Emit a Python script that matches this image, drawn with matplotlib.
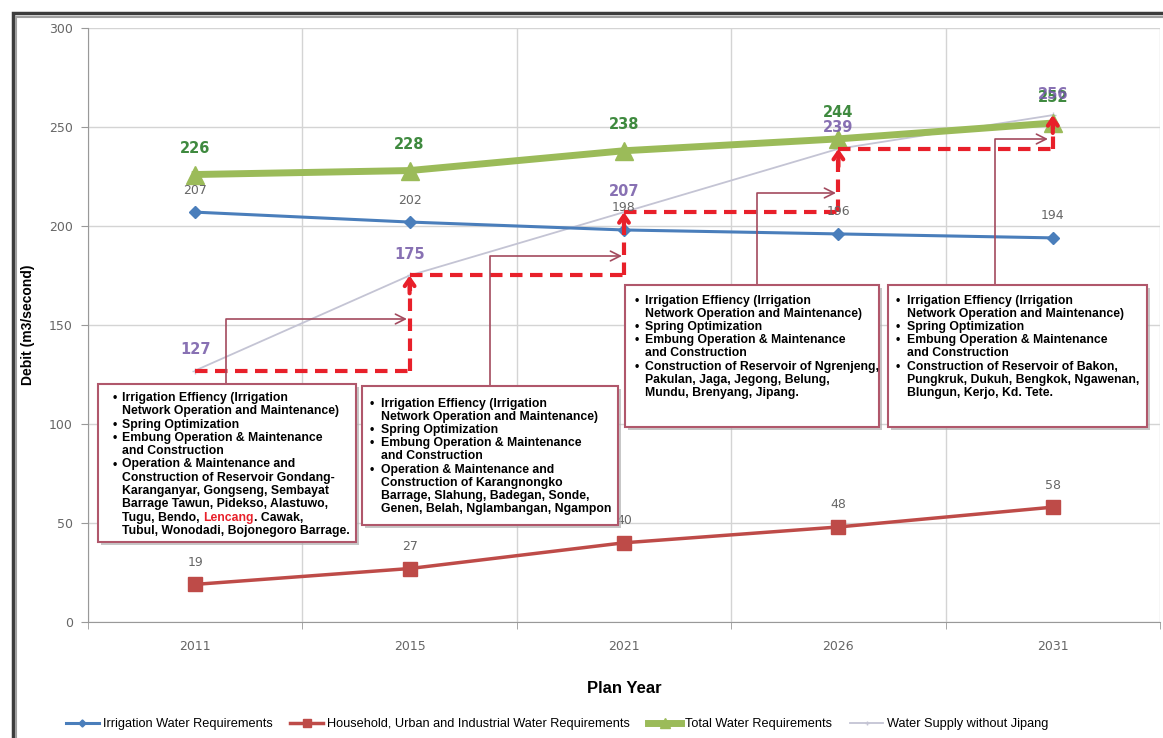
import matplotlib.pyplot as plt
from matplotlib.patches import Rectangle

W, H = 1163, 738

# series values (m3/second)
years = ['2011', '2015', '2021', '2026', '2031']
irrigation = [207, 202, 198, 196, 194]
household = [19, 27, 40, 48, 58]
total = [226, 228, 238, 244, 252]
supply = [127, 175, 207, 239, 256]

yticks = [0, 50, 100, 150, 200, 250, 300]

# program notes per planning period; {word} is drawn in red
common_items = [
    ['Irrigation Effiency (Irrigation', 'Network Operation and Maintenance)'],
    ['Spring Optimization'],
    ['Embung Operation & Maintenance', 'and Construction'],
]
notes_2015 = common_items + [[
    'Operation & Maintenance and',
    'Construction of Reservoir Gondang-',
    'Karanganyar, Gongseng, Sembayat',
    'Barrage Tawun, Pidekso, Alastuwo,',
    'Tugu, Bendo, {Lencang}. Cawak,',
    'Tubul, Wonodadi, Bojonegoro Barrage.',
]]
notes_2021 = common_items + [[
    'Operation & Maintenance and',
    'Construction of Karangnongko',
    'Barrage, Slahung, Badegan, Sonde,',
    'Genen, Belah, Nglambangan, Ngampon',
]]
notes_2026 = common_items + [[
    'Construction of Reservoir of Ngrenjeng,',
    'Pakulan, Jaga, Jegong, Belung,',
    'Mundu, Brenyang, Jipang.',
]]
notes_2031 = common_items + [[
    'Construction of Reservoir of Bakon,',
    'Pungkruk, Dukuh, Bengkok, Ngawenan,',
    'Blungun, Kerjo, Kd. Tete.',
]]

fig = plt.figure(figsize=(W / 100, H / 100), dpi=100)
fig.patch.set_facecolor('white')
ax = fig.add_axes([88 / W, 1 - 622 / H, (1160 - 88) / W, (622 - 28) / H])

x = list(range(len(years)))

l_irr, = ax.plot(x, irrigation, color='#4a7ebb', lw=2.2, marker='D', ms=6,
                 label='Irrigation Water Requirements', zorder=4)
l_hh, = ax.plot(x, household, color='#be4b48', lw=2.5, marker='s', ms=10,
                label='Household, Urban and Industrial Water Requirements', zorder=4)
l_tot, = ax.plot(x, total, color='#9bbb59', lw=5, marker='^', ms=13,
                 label='Total Water Requirements', zorder=4)
l_sup, = ax.plot(x, supply, color='#c4c4d4', lw=1.3, marker='+', ms=4,
                 label='Water Supply without Jipang', zorder=3)

# value labels
for i in x:
    ax.annotate(str(irrigation[i]), (i, irrigation[i]), xytext=(0, 22),
                textcoords='offset pixels', ha='center', va='center',
                fontsize=9, color='#666666', zorder=6)
    ax.annotate(str(household[i]), (i, household[i]), xytext=(0, 22),
                textcoords='offset pixels', ha='center', va='center',
                fontsize=9, color='#666666', zorder=6)
    ax.annotate(str(total[i]), (i, total[i]), xytext=(0, 26),
                textcoords='offset pixels', ha='center', va='center',
                fontsize=10.5, fontweight='bold', color='#3f8a3f', zorder=6)
    ax.annotate(str(supply[i]), (i, supply[i]), xytext=(0, 21),
                textcoords='offset pixels', ha='center', va='center',
                fontsize=10.5, fontweight='bold', color='#7358a6', alpha=0.85, zorder=6)

# step arrows: supply gained from one period to the next
red = '#e8202a'
for i in range(len(x) - 1):
    ax.plot([i, i + 1], [supply[i], supply[i]], color=red, lw=3,
            ls=(0, (3, 1.8)), zorder=5, solid_capstyle='butt')
    ax.plot([i + 1, i + 1], [supply[i], supply[i + 1] - 3], color=red, lw=3,
            ls=(0, (3, 1.8)), zorder=5)
    ax.annotate('', xy=(i + 1, supply[i + 1]), xytext=(i + 1, supply[i + 1] - 9),
                arrowprops=dict(arrowstyle='->,head_length=0.5,head_width=0.35',
                                color=red, lw=3, shrinkA=0, shrinkB=0), zorder=5)

ax.set_xlim(-0.5, len(years) - 0.5)
ax.set_ylim(0, 300)
ax.set_xticks(x)
ax.set_xticklabels(years)
ax.set_xticks([v - 0.5 for v in range(len(years) + 1)], minor=True)
ax.set_yticks(yticks)
ax.tick_params(axis='x', which='major', length=0, pad=13, labelsize=9,
               labelcolor='#666666')
ax.tick_params(axis='x', which='minor', length=5, color='#999999')
ax.tick_params(axis='y', length=5, color='#999999', labelsize=9,
               labelcolor='#666666', pad=6)
ax.grid(True, axis='y', color='#d4d4d4', lw=1)
ax.grid(True, axis='x', which='minor', color='#d4d4d4', lw=1)
ax.set_axisbelow(True)
for side in ['top', 'right']:
    ax.spines[side].set_visible(False)
for side in ['left', 'bottom']:
    ax.spines[side].set_color('#999999')

ax.set_ylabel('Debit (m3/second)', fontsize=10, fontweight='bold',
              family='Liberation Sans', labelpad=10)
ax.set_xlabel('Plan Year', fontsize=12, fontweight='bold',
              family='Liberation Sans', labelpad=20)

fig.legend(handles=[l_irr, l_hh, l_tot, l_sup], loc='center',
           bbox_to_anchor=(557 / W, 1 - 724 / H), ncol=4, frameon=False,
           prop={'family': 'Liberation Sans', 'size': 9.2},
           handlelength=2.6, columnspacing=1.4, handletextpad=0.3, markerscale=0.6)

renderer = fig.canvas.get_renderer()


def fx(px):
    return px / W


def fy(py):
    return 1 - py / H


def note_box(left, top, right, bottom, items, first_y, bullet_x, text_x, step=13.3):
    fig.add_artist(Rectangle((fx(left + 3), fy(bottom + 3)), (right - left) / W,
                             (bottom - top) / H, transform=fig.transFigure,
                             fc='#b0b0b0', ec='none', alpha=0.7, zorder=6))
    fig.add_artist(Rectangle((fx(left), fy(bottom)), (right - left) / W,
                             (bottom - top) / H, transform=fig.transFigure,
                             fc='white', ec='#b0576b', lw=1.5, zorder=7))
    style = dict(family='Liberation Sans', fontweight='bold', fontsize=8.8,
                 va='baseline', ha='left', zorder=8)
    y = first_y + 4
    for item in items:
        fig.text(fx(bullet_x), fy(y), '\u2022', **style)
        for line in item:
            if '{' in line:
                # split the line so the middle word can take its own colour
                pre, rest = line.split('{')
                word, post = rest.split('}')
                cx = text_x
                for part, col in [(pre, 'black'), (word, '#e8202a'), (post, 'black')]:
                    t = fig.text(fx(cx), fy(y), part, color=col, **style)
                    cx = t.get_window_extent(renderer).x1
            else:
                fig.text(fx(text_x), fy(y), line, **style)
            y += step


def connector(x0, y0, x1, y1):
    ax.annotate('', xy=(x1, H - y1), xycoords='figure pixels',
                xytext=(x0, H - y0), textcoords='figure pixels',
                arrowprops=dict(arrowstyle='->,head_length=0.7,head_width=0.35',
                                color='#a34a5e', lw=1.2, shrinkA=0, shrinkB=0,
                                connectionstyle='angle,angleA=90,angleB=0,rad=0'),
                annotation_clip=False, zorder=5)


connector(226, 384, 407, 319)
connector(490, 386, 622, 256)
connector(757, 285, 836, 193)
connector(995, 285, 1048, 139)

note_box(98, 384, 356, 542, notes_2015, 397, 113, 122)
note_box(362, 386, 618, 525, notes_2021, 403, 370, 381, step=13.1)
note_box(625, 285, 879, 427, notes_2026, 300, 635, 645, step=13.1)
note_box(888, 285, 1147, 427, notes_2031, 300, 896, 907, step=13.1)

# outer frame
fig.add_artist(Rectangle((fx(13), fy(760)), (1190 - 13) / W, (760 - 13) / H,
                         transform=fig.transFigure, fill=False, ec='#3c3c3c',
                         lw=2.5, zorder=10, clip_on=False))
fig.add_artist(Rectangle((fx(16), fy(760)), (1190 - 16) / W, (760 - 16.5) / H,
                         transform=fig.transFigure, fill=False, ec='#a0a0a0',
                         lw=1.5, zorder=10, clip_on=False))

fig.savefig('out.png', dpi=100)
